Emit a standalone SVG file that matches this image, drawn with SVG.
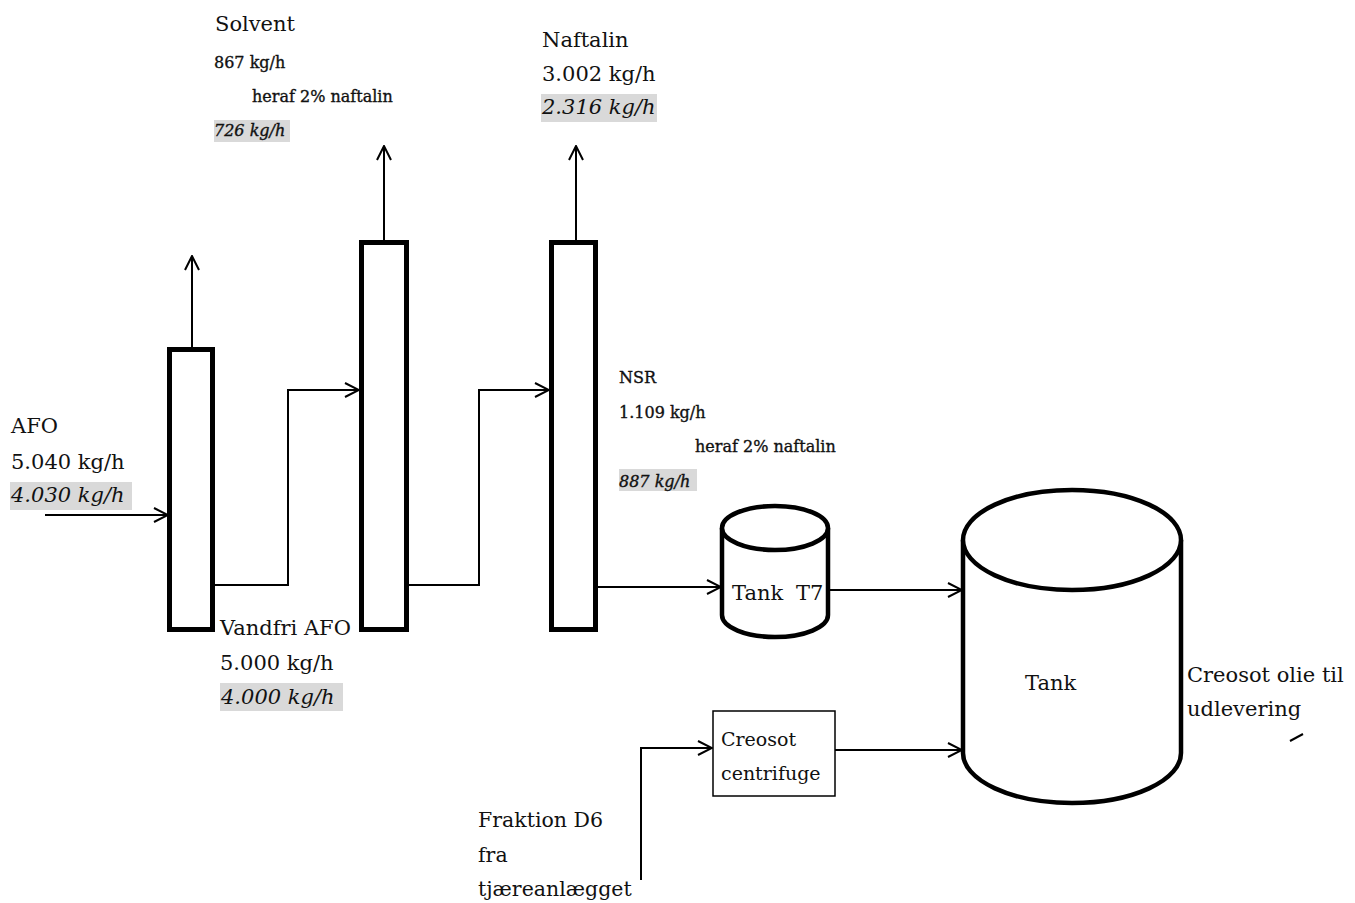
<svg xmlns="http://www.w3.org/2000/svg" width="1355" height="903" viewBox="0 0 1355 903">
  <style>
    text { font-family: "DejaVu Serif", "Liberation Serif", serif; fill: #111111; }
    .big { font-size: 21px; }
    .small { font-size: 16px; stroke: #111111; stroke-width: 0.35; }
    .it { font-style: italic; }
    .hl { fill: #d9d9d9; }
    .col { fill: #ffffff; stroke: #000; stroke-width: 5; }
    .tank { fill: #ffffff; stroke: #000; stroke-width: 4.5; }
    .flow { fill: none; stroke: #000; stroke-width: 2; marker-end: url(#arr); }
  </style>
  <defs>
    <marker id="arr" viewBox="0 0 16 16" refX="15" refY="8" markerWidth="16" markerHeight="16" markerUnits="userSpaceOnUse" orient="auto">
      <path d="M1,1 L15,8 L1,15" fill="none" stroke="#000" stroke-width="2"/>
    </marker>
  </defs>
  <rect width="1355" height="903" fill="#ffffff"/>

  <!-- connectors -->
  <g id="connectors">
    <path class="flow" d="M45,515 H168"/>
    <path class="flow" d="M192,347 V256"/>
    <path class="flow" d="M384,240 V146"/>
    <path class="flow" d="M576,240 V146"/>
    <path class="flow" d="M215,585 H288 V390 H359"/>
    <path class="flow" d="M409,585 H479 V390 H549"/>
    <path class="flow" d="M598,587 H721"/>
    <path class="flow" d="M828,590 H962"/>
    <path class="flow" d="M835,750 H962"/>
    <path class="flow" d="M641,880 V748 H712"/>
    <path d="M1290,741 L1303,734" stroke="#000" stroke-width="2"/>
  </g>

  <!-- distillation columns -->
  <g id="column1"><rect class="col" x="169.5" y="349.5" width="43" height="280"/></g>
  <g id="column2"><rect class="col" x="361.5" y="242.5" width="45" height="387"/></g>
  <g id="column3"><rect class="col" x="551.5" y="242.5" width="44" height="387"/></g>

  <!-- tank T7 -->
  <g id="tankT7">
    <path class="tank" d="M722,528 V615 A53,22 0 0 0 828,615 V528"/>
    <ellipse class="tank" cx="775" cy="528" rx="53" ry="22"/>
    <text class="big" x="732" y="600">Tank</text>
    <text class="big" x="796" y="600">T7</text>
  </g>

  <!-- storage tank -->
  <g id="tank">
    <path class="tank" d="M963,540 V753 A109,50 0 0 0 1181,753 V540"/>
    <ellipse class="tank" cx="1072" cy="540" rx="109" ry="50"/>
    <text class="big" x="1025" y="690">Tank</text>
  </g>

  <!-- centrifuge -->
  <g id="centrifuge">
    <rect x="713" y="711" width="122" height="85" fill="#ffffff" stroke="#000" stroke-width="1.5"/>
    <text class="big" x="721" y="746" style="font-size:19px">Creosot</text>
    <text class="big" x="721" y="780" style="font-size:19px">centrifuge</text>
  </g>

  <!-- stream labels -->
  <g id="solvent">
    <text class="big" x="215" y="31">Solvent</text>
    <text class="small" x="214" y="68">867 kg/h</text>
    <text class="small" x="252" y="102">heraf 2% naftalin</text>
    <rect class="hl" x="214" y="120" width="76" height="22"/>
    <text class="small it" x="214" y="136">726 kg/h</text>
  </g>
  <g id="naftalin">
    <text class="big" x="542" y="47">Naftalin</text>
    <text class="big" x="542" y="81">3.002 kg/h</text>
    <rect class="hl" x="541" y="94" width="116" height="28"/>
    <text class="big it" x="542" y="114">2.316 kg/h</text>
  </g>
  <g id="afo">
    <text class="big" x="11" y="433">AFO</text>
    <text class="big" x="11" y="469">5.040 kg/h</text>
    <rect class="hl" x="10" y="482" width="122" height="28"/>
    <text class="big it" x="11" y="502">4.030 kg/h</text>
  </g>
  <g id="nsr">
    <text class="small" x="619" y="383">NSR</text>
    <text class="small" x="619" y="418">1.109 kg/h</text>
    <text class="small" x="695" y="452">heraf 2% naftalin</text>
    <rect class="hl" x="619" y="469" width="78" height="22"/>
    <text class="small it" x="619" y="487">887 kg/h</text>
  </g>
  <g id="vandfri">
    <text class="big" x="220" y="635">Vandfri AFO</text>
    <text class="big" x="220" y="670">5.000 kg/h</text>
    <rect class="hl" x="220" y="683" width="123" height="28"/>
    <text class="big it" x="221" y="704">4.000 kg/h</text>
  </g>
  <g id="fraktion">
    <text class="big" x="478" y="827" style="font-size:20.5px">Fraktion D6</text>
    <text class="big" x="478" y="862" style="font-size:20.5px">fra</text>
    <text class="big" x="478" y="896" style="font-size:20.5px">tjæreanlægget</text>
  </g>
  <g id="creosot-olie">
    <text class="big" x="1187" y="682">Creosot olie til</text>
    <text class="big" x="1187" y="716">udlevering</text>
  </g>
</svg>
